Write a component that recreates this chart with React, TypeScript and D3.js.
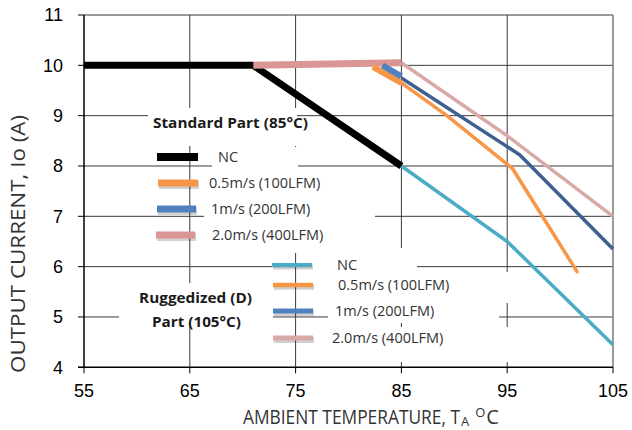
import React from "react";
import * as d3 from "d3";

const xTicks = [55, 65, 75, 85, 95, 105];
const yTicks = [4, 5, 6, 7, 8, 9, 10, 11];

// Standard part (85°C)
const stdNCTemp = [55, 71, 85];
const stdNCCur = [10, 10, 8.0];
const std05Temp = [82.3, 85];
const std05Cur = [9.97, 9.65];
const std1Temp = [83.2, 85];
const std1Cur = [10, 9.78];
const std2Temp = [71, 85];
const std2Cur = [10, 10.05];

// Ruggedized part (105°C)
const rugNCTemp = [55, 71, 85, 95, 105];
const rugNCCur = [10, 10, 8.0, 6.5, 4.45];
const rug05Temp = [85, 89.3, 95.5, 101.6];
const rug05Cur = [9.65, 9.0, 7.95, 5.9];
const rug1Temp = [85, 96.2, 105];
const rug1Cur = [9.75, 8.22, 6.35];
const rug2Temp = [85, 95, 105];
const rug2Cur = [10.05, 8.6, 7.0];

const legendLabels = ["NC", "0.5m/s (100LFM)", "1m/s (200LFM)", "2.0m/s (400LFM)"];

const x = d3.scaleLinear().domain([55, 105]).range([84, 613]);
const y = d3.scaleLinear().domain([4, 11]).range([367.3, 15]);

const line = d3
  .line<[number, number]>()
  .x((d) => x(d[0]))
  .y((d) => y(d[1]));

const pts = (t: number[], c: number[]) => t.map((v, i) => [v, c[i]] as [number, number]);

const C = {
  black: "#000000",
  orange: "#F79646",
  blue: "#4F81BD",
  navy: "#3D5F92",
  pink: "#D99694",
  pinkL: "#D9A9A8",
  cyan: "#4BACC6",
};

export default function App() {
  const grid = "#3a3a3a";
  const legendFont = "'Open Sans', sans-serif";
  const stdSw = [
    { x1: 157, x2: 198, y: 157, c: C.black, w: 8, tx: 218, sh: false },
    { x1: 158, x2: 198, y: 183, c: C.orange, w: 7, tx: 209, sh: true },
    { x1: 157, x2: 196, y: 209, c: C.blue, w: 7, tx: 211, sh: true },
    { x1: 156, x2: 195, y: 235, c: C.pink, w: 7, tx: 212, sh: true },
  ];
  const rugSw = [
    { x1: 272, x2: 312, y: 265, c: C.cyan, w: 4, tx: 337, sh: true },
    { x1: 273, x2: 313, y: 285, c: C.orange, w: 4.5, tx: 338, sh: true },
    { x1: 273, x2: 313, y: 311, c: C.blue, w: 5, tx: 335, sh: true },
    { x1: 273, x2: 313, y: 338, c: C.pinkL, w: 5, tx: 332, sh: true },
  ];
  const whites = [
    [148, 108, 297, 146],
    [212, 147, 298, 170],
    [204, 170, 375, 253],
    [119, 283, 273, 322],
    [312, 248, 417, 272],
    [320, 272, 512, 303],
    [328, 303, 499, 323],
    [320, 327, 512, 362],
  ];
  const swatch = (s: any, key: string) => (
    <g key={key}>
      {s.sh && (
        <line
          x1={s.x1 + 1}
          x2={s.x2 + 1}
          y1={s.y + 2}
          y2={s.y + 2}
          stroke="#000"
          strokeOpacity={0.18}
          strokeWidth={s.w + 1}
        />
      )}
      <line x1={s.x1} x2={s.x2} y1={s.y} y2={s.y} stroke={s.c} strokeWidth={s.w} />
    </g>
  );
  return (
    <svg
      width={632}
      height={430}
      style={{ position: "absolute", left: 0, top: 0, background: "#fff" }}
    >
      <rect x={0} y={0} width={632} height={430} fill="#fff" />
      {/* grid */}
      {yTicks.slice(1).map((t) => (
        <line
          key={"gy" + t}
          x1={x(55)}
          x2={x(105)}
          y1={y(t)}
          y2={y(t)}
          stroke={t === 11 ? "#7a7a7a" : grid}
          strokeWidth={t === 11 ? 1.5 : 1}
        />
      ))}
      {xTicks.slice(1).map((t) => (
        <line
          key={"gx" + t}
          x1={x(t)}
          x2={x(t)}
          y1={y(11)}
          y2={y(4)}
          stroke={t === 105 ? "#7a7a7a" : grid}
          strokeWidth={t === 105 ? 1.5 : 1}
        />
      ))}
      {/* legend backgrounds */}
      {whites.map((r, i) => (
        <rect key={"w" + i} x={r[0]} y={r[1]} width={r[2] - r[0]} height={r[3] - r[1]} fill="#fff" />
      ))}
      {/* axes */}
      <line x1={x(55)} x2={x(55)} y1={y(11)} y2={y(4)} stroke="#000" strokeWidth={1.5} />
      <line x1={x(55) - 6} x2={x(105)} y1={y(4)} y2={y(4)} stroke="#000" strokeWidth={1.5} />
      {yTicks.map((t) => (
        <line key={"ty" + t} x1={x(55) - 6} x2={x(55)} y1={y(t)} y2={y(t)} stroke="#000" strokeWidth={1} />
      ))}
      {xTicks.map((t) => (
        <line key={"tx" + t} x1={x(t)} x2={x(t)} y1={y(4)} y2={y(4) + 6} stroke="#000" strokeWidth={1} />
      ))}
      {yTicks.map((t) => (
        <text
          key={"ly" + t}
          x={63}
          y={y(t)}
          dy="0.35em"
          textAnchor="end"
          fontFamily="'Liberation Sans', Arial, sans-serif"
          fontSize={18}
          fill="#000"
        >
          {t}
        </text>
      ))}
      {xTicks.map((t) => (
        <text
          key={"lx" + t}
          x={x(t)}
          y={391}
          dy="0.35em"
          textAnchor="middle"
          fontFamily="'Liberation Sans', Arial, sans-serif"
          fontSize={18}
          fill="#000"
        >
          {t}
        </text>
      ))}
      {/* axis titles */}
      <text
        transform="translate(25,244) rotate(-90)"
        textAnchor="middle"
        fontFamily="'Open Sans', sans-serif"
        fontWeight={400}
        fontSize={20}
        fill="#333"
        textLength={258}
        lengthAdjust="spacingAndGlyphs"
      >
        OUTPUT CURRENT, Io (A)
      </text>
      <text x={243} y={424} fontFamily="'Open Sans', sans-serif" fontWeight={400} fontSize={20} fill="#333">
        <tspan textLength={217} lengthAdjust="spacingAndGlyphs">AMBIENT TEMPERATURE, T</tspan>
        <tspan fontSize={13} dy={2} dx={1}>A</tspan>
        <tspan fontSize={13} dy={-9} dx={6}>O</tspan>
        <tspan dy={7} dx={1}>C</tspan>
      </text>
      {/* data lines: ruggedized */}
      <path d={line(pts(rugNCTemp, rugNCCur)) || ""} fill="none" stroke={C.cyan} strokeWidth={3.5} strokeLinejoin="round" />
      <path d={line(pts(rug05Temp, rug05Cur)) || ""} fill="none" stroke={C.orange} strokeWidth={3.5} strokeLinejoin="round" strokeLinecap="round" />
      <path d={line(pts(rug1Temp, rug1Cur)) || ""} fill="none" stroke={C.navy} strokeWidth={3.5} strokeLinejoin="round" />
      <path d={line(pts(rug2Temp, rug2Cur)) || ""} fill="none" stroke={C.pinkL} strokeWidth={3.5} strokeLinejoin="round" />
      {/* data lines: standard */}
      <path d={line(pts(stdNCTemp, stdNCCur)) || ""} fill="none" stroke={C.black} strokeWidth={7} strokeLinejoin="round" />
      <path d={line(pts(std2Temp, std2Cur)) || ""} fill="none" stroke={C.pink} strokeWidth={7} />
      <path d={line(pts(std05Temp, std05Cur)) || ""} fill="none" stroke={C.orange} strokeWidth={6} />
      <path d={line(pts(std1Temp, std1Cur)) || ""} fill="none" stroke={C.blue} strokeWidth={6} />
      {/* legend: standard */}
      <text
        x={153}
        y={128}
        fontFamily={legendFont}
        fontWeight="bold"
        fontSize={14.5}
        fill="#1a1a1a"
        textLength={155}
        lengthAdjust="spacingAndGlyphs"
      >
        Standard Part (85°C)
      </text>
      {stdSw.map((s, i) => (
        <g key={"ss" + i}>
          {swatch(s, "s" + i)}
          <text x={s.tx} y={s.y} dy="0.35em" fontFamily={legendFont} fontSize={14.5} fill="#333">
            {legendLabels[i]}
          </text>
        </g>
      ))}
      {/* legend: ruggedized */}
      <text
        x={139}
        y={303}
        fontFamily={legendFont}
        fontWeight="bold"
        fontSize={14.5}
        fill="#1a1a1a"
        textLength={113}
        lengthAdjust="spacingAndGlyphs"
      >
        Ruggedized (D)
      </text>
      <text
        x={152}
        y={327}
        fontFamily={legendFont}
        fontWeight="bold"
        fontSize={14.5}
        fill="#1a1a1a"
        textLength={89}
        lengthAdjust="spacingAndGlyphs"
      >
        Part (105°C)
      </text>
      {rugSw.map((s, i) => (
        <g key={"rs" + i}>
          {swatch(s, "r" + i)}
          <text x={s.tx} y={s.y} dy="0.35em" fontFamily={legendFont} fontSize={14.5} fill="#333">
            {legendLabels[i]}
          </text>
        </g>
      ))}
    </svg>
  );
}
